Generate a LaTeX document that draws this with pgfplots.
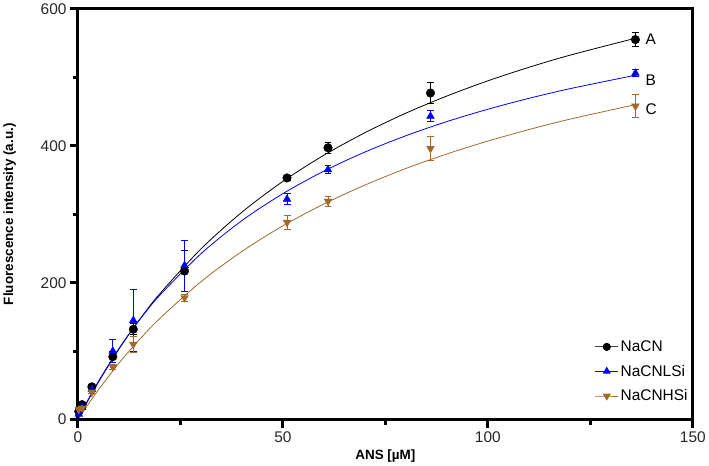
\documentclass[border=0pt]{standalone}
\usepackage{pgfplots}
\usepackage{pgfplotstable}
\pgfplotsset{compat=1.18}
\usepackage{fontspec}
\setmainfont{Liberation Sans}
\definecolor{cA}{RGB}{0,0,0}
\definecolor{cB}{RGB}{0,0,255}
\definecolor{cC}{RGB}{163,104,44}
\pgfplotstableread{
x yA eA yB eB yC eC
0.2 12 2 8 2 15 2
1 22 3 18 3 17 2
3.4 48 3 44 3 40 2
8.5 92 8 100 17 77 3
13.5 132 8 145 45 110 12
26 217 30 225 37 178 5
51 353 4 322 8 288 10
61 397 8 365 6 319 7
86 477 15 443 8 396 18
136 555 10 506 5 458 17
}\pts
\pgfplotstableread{
x fA fB fC
0 0 0 0
2 23 24 18
5 54.9 56.0 43.7
10 103.1 104.0 82.5
15 145.9 145.6 117.0
20 184.1 181.9 148.0
30 249.3 242.3 201.4
40 303.0 290.7 245.7
50 348.0 330.1 283.1
60 386.2 363.0 315.0
70 419.0 390.8 342.6
80 447.6 414.6 366.8
90 472.6 435.3 388.0
100 494.8 453.3 406.8
110 514.5 469.2 423.6
120 532.2 483.3 438.8
136 557.0 503.0 460.0
}\fits
\begin{document}
\begin{tikzpicture}[x=1bp,y=1bp]
\begin{axis}[
  scale only axis, width=615bp, height=411bp,
  axis line style={line width=3bp, black},
  xmin=0, xmax=150, ymin=0, ymax=600,
  xtick={0,50,100,150}, ytick={0,200,400,600},
  minor xtick={25,75,125}, minor ytick={100,300,500},
  major tick style={line width=3bp, black},
  minor tick style={line width=3bp, black},
  major tick length=8bp, minor tick length=5bp,
  tick align=outside, xtick pos=bottom, ytick pos=left,
  /pgf/number format/assume math mode=true,
  ticklabel style={font=\fontsize{15.5}{18}\selectfont, text=black!85},
  xticklabel style={yshift=-1bp},
  xlabel={\textbf{ANS [\textmu M]}},
  ylabel={\textbf{Fluorescence intensity (a.u.)}},
  label style={font=\fontsize{13.5}{16}\selectfont},
  xlabel style={yshift=0bp},
  ylabel style={yshift=18bp},
  legend style={at={(1.0,0.032)}, anchor=south east, draw=none, fill=none,
    font=\fontsize{15.5}{18}\selectfont, row sep=8bp},
  legend cell align=left,
  legend image code/.code={\draw[mark repeat=2, mark phase=2, #1] plot coordinates {(0bp,0bp) (11.5bp,0bp) (23bp,0bp)};},
  clip=false,
]
\addplot[cA, only marks, mark=*, mark size=4.3bp, mark options={solid, fill=cA, draw=cA}, forget plot,
  error bars/.cd, y dir=both, y explicit, error bar style={line width=0.8bp, cA}, error mark options={rotate=90, mark size=3.5bp, line width=0.8bp}]
  table[x=x, y=yA, y error=eA]{\pts};
\addplot[cB, only marks, mark=triangle*, mark size=4.5bp, mark options={solid, fill=cB, draw=cB}, forget plot,
  error bars/.cd, y dir=both, y explicit, error bar style={line width=0.8bp, cB}, error mark options={rotate=90, mark size=3.5bp, line width=0.8bp}]
  table[x=x, y=yB, y error=eB]{\pts};
\addplot[cC, only marks, mark=triangle*, mark size=4.5bp, mark options={solid, rotate=180, fill=cC, draw=cC}, forget plot,
  error bars/.cd, y dir=both, y explicit, error bar style={line width=0.8bp, cC}, error mark options={rotate=90, mark size=3.5bp, line width=0.8bp}]
  table[x=x, y=yC, y error=eC]{\pts};
\addplot[cA, line width=0.8bp, smooth, no marks, forget plot] table[x=x, y=fA]{\fits};
\addplot[cB, line width=0.8bp, smooth, no marks, forget plot] table[x=x, y=fB]{\fits};
\addplot[cC, line width=0.8bp, smooth, no marks, forget plot] table[x=x, y=fC]{\fits};
\addlegendimage{black!75, line width=0.9bp, mark=*, mark size=3.6bp, mark options={fill=black, draw=black}}
\addlegendentry{NaCN}
\addlegendimage{cB, line width=0.9bp, mark=triangle*, mark size=3.8bp, mark options={fill=cB, draw=cB}}
\addlegendentry{NaCNLSi}
\addlegendimage{cC, line width=0.9bp, mark=triangle*, mark size=3.8bp, mark options={rotate=180, fill=cC, draw=cC}}
\addlegendentry{NaCNHSi}
\draw[line width=3bp, black] (rel axis cs:0,0) rectangle (rel axis cs:1,1);
\node[anchor=west, inner sep=1bp, font=\fontsize{15.5}{18}\selectfont] at (axis cs:138.2,555) {A};
\node[anchor=west, inner sep=1bp, font=\fontsize{15.5}{18}\selectfont] at (axis cs:138.2,495) {B};
\node[anchor=west, inner sep=1bp, font=\fontsize{15.5}{18}\selectfont] at (axis cs:138.2,454) {C};
\end{axis}
\end{tikzpicture}
\end{document}
